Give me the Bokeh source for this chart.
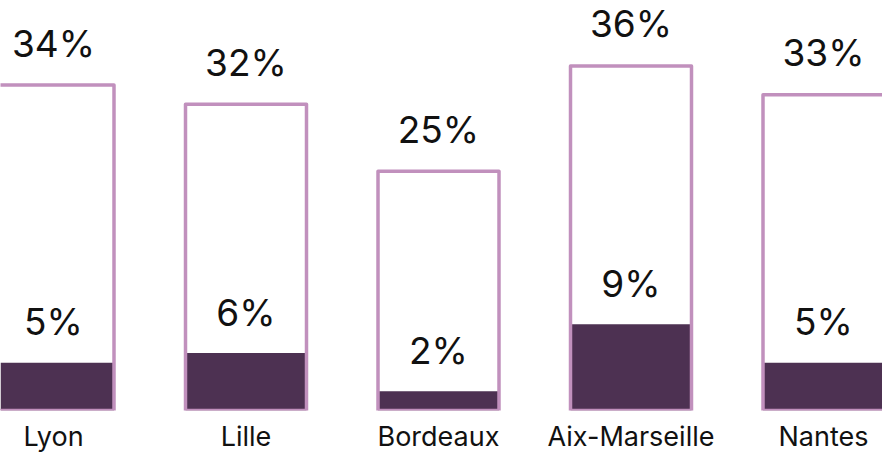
from bokeh.plotting import figure
from bokeh.models import Range1d, FixedTicker, ColumnDataSource
from bokeh.core.properties import value
from bokeh.embed import file_html
from bokeh.resources import INLINE

cities = ["Lyon", "Lille", "Bordeaux", "Aix-Marseille", "Nantes"]
total_pct = [34, 32, 25, 36, 33]
inner_pct = [5, 6, 2, 9, 5]

FONT = "Inter"
PINK = "#c190bd"
DARK = "#4d3152"

W, H = 882, 455
frame_h = 410
px_per_unit_y = 9.57
px_per_unit_x = 192.5
x_start = -53 / px_per_unit_x
bw = 121 / px_per_unit_x
hw = bw / 2

xs = list(range(len(cities)))
src = ColumnDataSource(dict(
    x=xs, total=total_pct, inner=inner_pct,
    total_lbl=[f"{v}%" for v in total_pct],
    inner_lbl=[f"{v}%" for v in inner_pct],
))
# outline shapes of the total bars, built from the data
outline = ColumnDataSource(dict(
    xs=[[x - hw, x - hw, x + hw, x + hw] for x in xs],
    ys=[[0, t, t, 0] for t in total_pct],
))

p = figure(width=W, height=H, output_backend="svg", toolbar_location=None,
           x_range=Range1d(x_start, x_start + W / px_per_unit_x),
           y_range=Range1d(0, frame_h / px_per_unit_y),
           min_border_left=0, min_border_right=0, min_border_top=0,
           min_border_bottom=H - frame_h)
p.outline_line_color = None
p.grid.visible = False
p.yaxis.visible = False

p.vbar(x="x", top="inner", width=bw, bottom=0, source=src,
       fill_color=DARK, line_color=None)
p.patches(xs="xs", ys="ys", source=outline,
          fill_color=None, line_color=PINK, line_width=3.5, line_join="round")

p.text(x="x", y="total", text="total_lbl", source=src,
       text_font=value(FONT), text_font_size="37px", text_color="#111111",
       text_align="center", text_baseline="alphabetic", y_offset=-42)
p.text(x="x", y="inner", text="inner_lbl", source=src,
       text_font=value(FONT), text_font_size="37px", text_color="#111111",
       text_align="center", text_baseline="alphabetic", y_offset=-41)

ax = p.xaxis[0]
ax.ticker = FixedTicker(ticks=xs)
ax.major_label_overrides = {i: c for i, c in enumerate(cities)}
ax.axis_line_color = None
ax.major_tick_line_color = None
ax.minor_tick_line_color = None
ax.major_tick_out = 0
ax.major_tick_in = 0
ax.major_label_standoff = 9
ax.major_label_text_font = FONT
ax.major_label_text_font_size = "27px"
ax.major_label_text_color = "#111111"

open("out.html", "w").write(file_html(p, INLINE))
